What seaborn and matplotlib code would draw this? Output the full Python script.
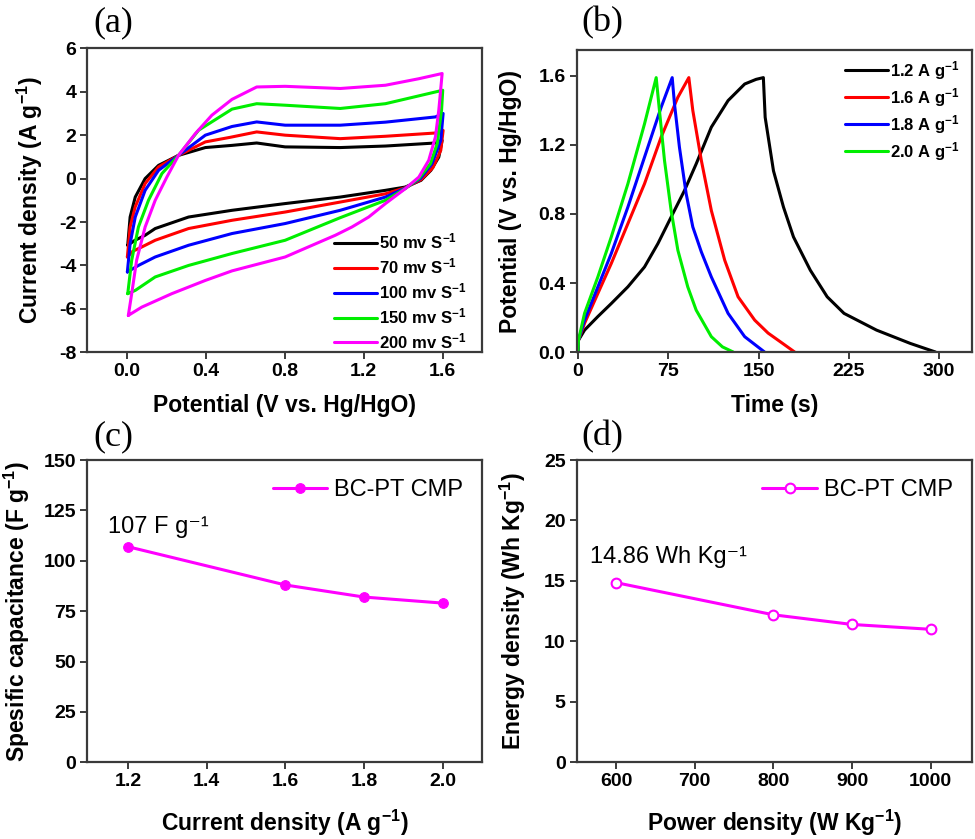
import matplotlib
matplotlib.use('Agg')
import matplotlib.pyplot as plt
import seaborn as sns

# (a) CV loops: potential (V) and current density (A/g), traced round each loop
cv_labels = ['50 mv S$^{-1}$', '70 mv S$^{-1}$', '100 mv S$^{-1}$', '150 mv S$^{-1}$', '200 mv S$^{-1}$']
cv_colors = ['black', 'red', 'blue', '#00ee00', 'magenta']

cv50_v = [0.005, 0.017, 0.043, 0.093, 0.161, 0.262, 0.398, 0.533, 0.658, 0.802, 1.081, 1.31, 1.563, 1.597,
          1.58, 1.54, 1.49, 1.41, 1.31, 1.081, 0.802, 0.533, 0.313, 0.144, 0.093, 0.04, 0.005]
cv50_i = [-3.07, -1.77, -0.85, 0.0, 0.61, 1.07, 1.43, 1.53, 1.64, 1.46, 1.43, 1.5, 1.64, 1.76,
          0.99, 0.38, -0.08, -0.39, -0.54, -0.85, -1.15, -1.46, -1.77, -2.3, -2.61, -2.85, -3.07]

cv70_v = [0.003, 0.017, 0.043, 0.093, 0.161, 0.262, 0.398, 0.523, 0.658, 0.802, 1.081, 1.31, 1.563, 1.602,
          1.59, 1.55, 1.49, 1.41, 1.31, 1.081, 0.802, 0.533, 0.313, 0.144, 0.076, 0.03, 0.003]
cv70_i = [-3.61, -2.23, -1.3, -0.23, 0.54, 1.07, 1.69, 1.9, 2.15, 2.0, 1.84, 1.95, 2.1, 2.22,
          1.3, 0.5, -0.05, -0.42, -0.7, -1.08, -1.54, -1.92, -2.3, -2.84, -3.15, -3.35, -3.61]

cv100_v = [0.003, 0.017, 0.043, 0.093, 0.161, 0.262, 0.398, 0.533, 0.658, 0.802, 1.081, 1.31, 1.563, 1.602,
           1.59, 1.546, 1.487, 1.41, 1.31, 1.081, 0.802, 0.533, 0.313, 0.144, 0.059, 0.003]
cv100_i = [-4.3, -3.0, -1.77, -0.54, 0.38, 1.07, 2.0, 2.4, 2.61, 2.46, 2.46, 2.6, 2.84, 3.0,
           1.76, 0.69, 0.0, -0.44, -0.85, -1.46, -2.07, -2.53, -3.07, -3.61, -4.0, -4.3]

cv150_v = [0.005, 0.025, 0.059, 0.11, 0.178, 0.262, 0.364, 0.533, 0.658, 0.802, 1.081, 1.31, 1.563, 1.6,
           1.594, 1.572, 1.538, 1.479, 1.41, 1.31, 1.081, 0.802, 0.533, 0.313, 0.144, 0.043, 0.005]
cv150_i = [-5.3, -3.76, -2.23, -1.0, 0.23, 1.07, 2.23, 3.2, 3.45, 3.38, 3.23, 3.45, 3.99, 4.07,
           3.15, 1.61, 0.69, 0.0, -0.46, -1.0, -1.8, -2.84, -3.45, -4.0, -4.53, -5.15, -5.3]

cv200_v = [0.008, 0.025, 0.05, 0.093, 0.144, 0.203, 0.262, 0.347, 0.431, 0.533, 0.658, 0.802, 1.081, 1.31, 1.479,
           1.597, 1.58, 1.563, 1.529, 1.479, 1.411, 1.31, 1.225, 1.14, 1.056, 0.802, 0.533, 0.398, 0.228, 0.076, 0.008]
cv200_i = [-6.3, -5.3, -3.76, -2.23, -1.0, 0.07, 1.07, 2.07, 2.92, 3.65, 4.22, 4.25, 4.15, 4.3, 4.6,
           4.84, 3.15, 1.92, 0.84, 0.07, -0.46, -1.15, -1.77, -2.23, -2.61, -3.61, -4.25, -4.69, -5.3, -5.92, -6.3]

# (b) charge/discharge: time (s) and potential (V)
gcd_labels = ['1.2 A g$^{-1}$', '1.6 A g$^{-1}$', '1.8 A g$^{-1}$', '2.0 A g$^{-1}$']
gcd_colors = ['black', 'red', 'blue', '#00ee00']

gcd12_t = [0, 0.5, 5.5, 16.6, 27.7, 41.5, 55.3, 66.4, 77.4, 88.5, 98.2, 110.8, 124.7, 138.5, 148, 154,
           155.5, 162.4, 170.7, 179, 193, 207, 221, 248, 276, 297]
gcd12_v = [0, 0.069, 0.127, 0.206, 0.281, 0.378, 0.493, 0.628, 0.782, 0.936, 1.09, 1.303, 1.457, 1.553, 1.58, 1.59,
           1.36, 1.05, 0.84, 0.667, 0.474, 0.32, 0.224, 0.127, 0.05, 0.0]

gcd16_t = [0, 0.5, 5.5, 16.6, 27.7, 41.5, 55.3, 69.1, 83, 92.1, 95.4, 102.5, 110.8, 121.9, 133, 146.8, 157.9, 170, 180]
gcd16_v = [0, 0.07, 0.166, 0.34, 0.513, 0.744, 0.975, 1.245, 1.476, 1.59, 1.4, 1.11, 0.82, 0.532, 0.32, 0.185, 0.11,
           0.05, 0.0]

gcd18_t = [0, 0.5, 5.5, 16.6, 27.7, 41.5, 55.3, 69.1, 78.3, 80.2, 84.3, 89.9, 95.4, 102.5, 110.8, 124.7, 138.5, 155]
gcd18_v = [0, 0.07, 0.185, 0.378, 0.571, 0.84, 1.129, 1.418, 1.59, 1.437, 1.187, 0.917, 0.725, 0.58, 0.435, 0.224,
           0.089, 0.0]

gcd20_t = [0, 0.5, 5.5, 16.6, 27.7, 41.5, 55.3, 65, 67.7, 71.9, 77.4, 83, 91.2, 98.2, 110.8, 120, 129]
gcd20_v = [0, 0.07, 0.224, 0.436, 0.667, 0.975, 1.322, 1.59, 1.4, 1.11, 0.82, 0.59, 0.378, 0.243, 0.089, 0.03, 0.0]

# (c) specific capacitance vs current density
current_density = [1.2, 1.6, 1.8, 2.0]
capacitance = [107, 88, 82, 79]

# (d) Ragone
power_density = [600, 800, 900, 1000]
energy_density = [14.86, 12.2, 11.4, 11.0]

sns.set_theme(style='ticks')
plt.rcParams['font.family'] = ['Liberation Sans', 'DejaVu Sans']
plt.rcParams['mathtext.fontset'] = 'custom'
plt.rcParams['mathtext.rm'] = 'Liberation Sans:bold'
plt.rcParams['mathtext.it'] = 'Liberation Sans:bold'
plt.rcParams['mathtext.bf'] = 'Liberation Sans:bold'
plt.rcParams['axes.unicode_minus'] = False
plt.rcParams['text.color'] = 'black'
plt.rcParams['axes.labelcolor'] = 'black'
plt.rcParams['xtick.labelcolor'] = 'black'
plt.rcParams['ytick.labelcolor'] = 'black'

fig = plt.figure(figsize=(9.75, 8.39), dpi=100)
ax_a = fig.add_axes([0.0895, 0.5801, 0.4051, 0.3623])
ax_b = fig.add_axes([0.5915, 0.5804, 0.4051, 0.3600])
ax_c = fig.add_axes([0.0895, 0.0914, 0.4051, 0.3603])
ax_d = fig.add_axes([0.5915, 0.0914, 0.4051, 0.3603])


def style_axes(ax):
    for sp in ax.spines.values():
        sp.set_color('#3a3a3a')
        sp.set_linewidth(1.6)
    ax.tick_params(direction='out', length=5, width=1.4, color='#3a3a3a', labelcolor='black', pad=3,
                   labelsize=14, top=False, right=False)
    for lab in ax.get_xticklabels() + ax.get_yticklabels():
        lab.set_fontweight('bold')
    ax.xaxis.label.set_fontweight('bold')
    ax.yaxis.label.set_fontweight('bold')
    ax.xaxis.label.set_fontsize(16.5)
    ax.yaxis.label.set_fontsize(16.5)


# (a)
cv_v = [cv50_v, cv70_v, cv100_v, cv150_v, cv200_v]
cv_i = [cv50_i, cv70_i, cv100_i, cv150_i, cv200_i]
for v, i, lab, col in zip(cv_v, cv_i, cv_labels, cv_colors):
    sns.lineplot(x=v, y=i, sort=False, estimator=None, color=col, lw=2.2, label=lab, ax=ax_a)
ax_a.set_xlim(-0.2, 1.8)
ax_a.set_ylim(-8, 6)
ax_a.set_xticks([0.0, 0.4, 0.8, 1.2, 1.6])
ax_a.set_xticklabels(['0.0', '0.4', '0.8', '1.2', '1.6'])
ax_a.set_yticks(range(-8, 7, 2))
ax_a.set_xlabel('Potential (V vs. Hg/HgO)')
ax_a.set_ylabel('Current density (A g$^{-1}$)')
ax_a.legend(loc='lower right', frameon=False, prop={'weight': 'bold', 'size': 12},
            handlelength=2.6, handletextpad=0.15, labelspacing=0.3, borderaxespad=0.3,
            bbox_to_anchor=(0.99, -0.035))

# (b)
gcd_t = [gcd12_t, gcd16_t, gcd18_t, gcd20_t]
gcd_v = [gcd12_v, gcd16_v, gcd18_v, gcd20_v]
for t, v, lab, col in zip(gcd_t, gcd_v, gcd_labels, gcd_colors):
    sns.lineplot(x=t, y=v, sort=False, estimator=None, color=col, lw=2.2, label=lab, ax=ax_b)
ax_b.set_xlim(-1, 327)
ax_b.set_ylim(0, 1.75)
ax_b.set_xticks([0, 75, 150, 225, 300])
ax_b.set_yticks([0.0, 0.4, 0.8, 1.2, 1.6])
ax_b.set_yticklabels(['0.0', '0.4', '0.8', '1.2', '1.6'])
ax_b.set_xlabel('Time (s)')
ax_b.set_ylabel('Potential (V vs. Hg/HgO)')
ax_b.legend(loc='upper right', frameon=False, prop={'weight': 'bold', 'size': 12},
            handlelength=2.6, handletextpad=0.15, labelspacing=0.25, borderaxespad=0.3,
            bbox_to_anchor=(1.0, 1.01))

# (c)
sns.lineplot(x=current_density, y=capacitance, color='magenta', lw=2.2, marker='o', markersize=7,
             markeredgecolor='magenta', label='BC-PT CMP', ax=ax_c)
ax_c.set_xlim(1.097, 2.1)
ax_c.set_ylim(0, 150)
ax_c.set_xticks([1.2, 1.4, 1.6, 1.8, 2.0])
ax_c.set_xticklabels(['1.2', '1.4', '1.6', '1.8', '2.0'])
ax_c.set_yticks(range(0, 151, 25))
ax_c.set_xlabel('Current density (A g$^{-1}$)')
ax_c.set_ylabel('Spesific capacitance (F g$^{-1}$)')
ax_c.annotate('107 F g\u207b\u00b9', (current_density[0], capacitance[0]), xytext=(-14, 10),
              textcoords='offset points', fontsize=17, ha='left', va='baseline', color='black')
ax_c.legend(loc='upper right', frameon=False, fontsize=17, handlelength=2.3,
            handletextpad=0.3, borderaxespad=0.4)

# (d)
sns.lineplot(x=power_density, y=energy_density, color='magenta', lw=2.2, marker='o', markersize=7,
             markeredgecolor='magenta', markerfacecolor='white', markeredgewidth=1.5,
             label='BC-PT CMP', ax=ax_d)
ax_d.set_xlim(550, 1052)
ax_d.set_ylim(0, 25)
ax_d.set_xticks([600, 700, 800, 900, 1000])
ax_d.set_yticks(range(0, 26, 5))
ax_d.set_xlabel('Power density (W Kg$^{-1}$)')
ax_d.set_ylabel('Energy density (Wh Kg$^{-1}$)')
ax_d.annotate('14.86 Wh Kg\u207b\u00b9', (power_density[0], energy_density[0]), xytext=(-19, 14),
              textcoords='offset points', fontsize=17, ha='left', va='baseline', color='black')
ax_d.legend(loc='upper right', frameon=False, fontsize=17, handlelength=2.3,
            handletextpad=0.3, borderaxespad=0.4)

for ax in (ax_a, ax_b, ax_c, ax_d):
    style_axes(ax)
    for txt in ax.get_legend().get_texts():
        txt.set_color('black')

ax_a.yaxis.set_label_coords(-0.107, 0.5)
ax_b.yaxis.set_label_coords(-0.139, 0.5)
ax_c.yaxis.set_label_coords(-0.140, 0.5)
ax_d.yaxis.set_label_coords(-0.123, 0.5)
ax_a.xaxis.set_label_coords(0.5, -0.137)
ax_b.xaxis.set_label_coords(0.5, -0.14)
ax_c.xaxis.set_label_coords(0.5, -0.151)
ax_d.xaxis.set_label_coords(0.5, -0.151)

for x, y, s in [(0.116, 0.973, '(a)'), (0.618, 0.973, '(b)'), (0.116, 0.479, '(c)'), (0.618, 0.479, '(d)')]:
    fig.text(x, y, s, fontsize=26, family='Liberation Serif', ha='center', va='center', color='black')

fig.savefig('out.png', dpi=100)
